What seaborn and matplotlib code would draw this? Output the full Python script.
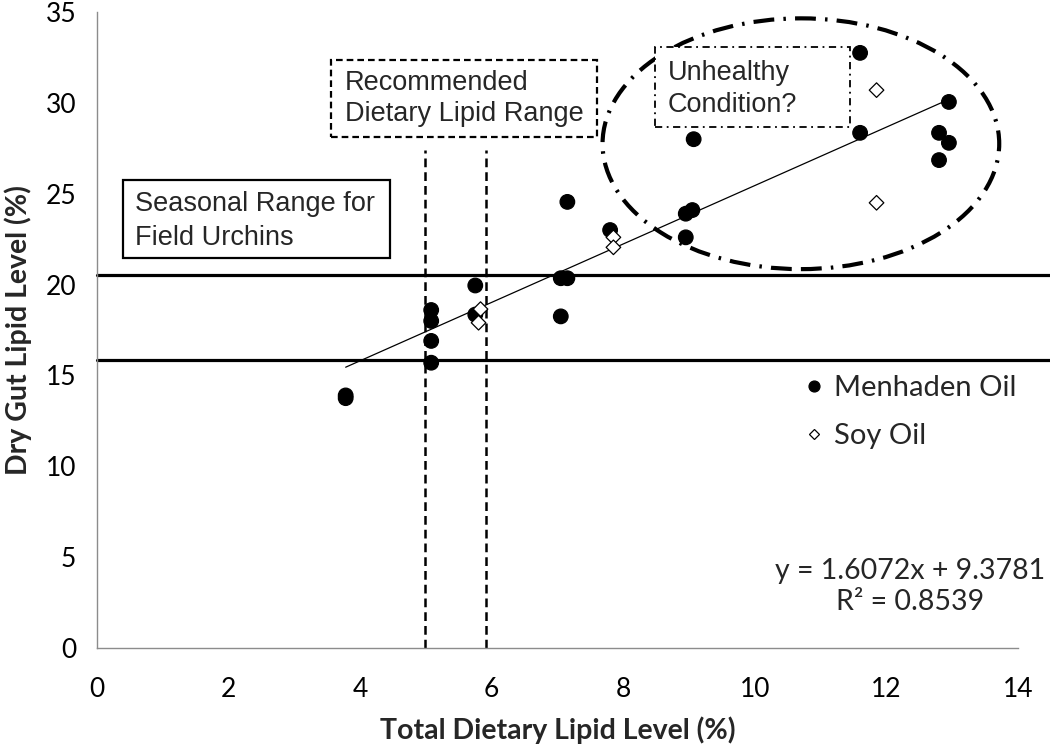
import numpy as np
import pandas as pd
import matplotlib
matplotlib.use("Agg")
import matplotlib.pyplot as plt
from matplotlib.patches import Ellipse, Rectangle
import seaborn as sns

# ---- data ----
menhaden_x = [3.78, 3.78, 5.08, 5.08, 5.08, 5.08, 5.75, 5.75, 7.05, 7.15, 7.05, 7.15,
              7.80, 8.95, 9.05, 8.95, 9.07, 11.60, 11.60, 12.80, 12.95, 12.80, 12.95]
menhaden_y = [13.90, 13.75, 18.60, 18.00, 16.90, 15.70, 19.95, 18.35, 20.35, 20.35, 18.25, 24.55,
              23.00, 23.90, 24.10, 22.60, 28.00, 32.75, 28.35, 28.35, 27.80, 26.85, 30.05]
soy_x = [5.83, 5.80, 7.85, 7.85, 11.85, 11.85]
soy_y = [18.65, 17.90, 22.60, 22.05, 30.70, 24.50]

fit_slope = 1.6072
fit_intercept = 9.3781
fit_r2 = 0.8539

field_range = [15.85, 20.55]        # seasonal range (y)
recommended_range = [4.98, 5.92]    # recommended dietary lipid range (x)

x_ticks = [0, 2, 4, 6, 8, 10, 12, 14]
y_ticks = [0, 5, 10, 15, 20, 25, 30, 35]

df = pd.DataFrame({
    "x": menhaden_x + soy_x,
    "y": menhaden_y + soy_y,
    "oil": ["Menhaden Oil"] * len(menhaden_x) + ["Soy Oil"] * len(soy_x),
})

sns.set_theme(style="white")
plt.rcParams["font.family"] = ["Lato", "DejaVu Sans"]

fig = plt.figure(figsize=(10.5, 7.49), dpi=100)
ax = fig.add_axes([0.0924, 0.1348, 0.8771, 0.8492])

# horizontal seasonal range lines (extend to figure edge)
for yv in field_range:
    ax.plot([0, 14.5], [yv, yv], color="black", lw=2.3, clip_on=False, zorder=2)

# vertical recommended range dashed lines
for xv in recommended_range:
    ax.plot([xv, xv], [0, 27.4], color="black", lw=1.8, ls=(0, (3.5, 2)), zorder=2)

# regression line
xs = np.array([min(df["x"]), max(df["x"])])
ax.plot(xs, fit_slope * xs + fit_intercept, color="black", lw=0.9, zorder=3)

sns.scatterplot(data=df, x="x", y="y", hue="oil", style="oil",
                size="oil", sizes={"Menhaden Oil": 110, "Soy Oil": 55},
                palette={"Menhaden Oil": "black", "Soy Oil": "white"},
                markers={"Menhaden Oil": "o", "Soy Oil": "D"},
                edgecolor="black", linewidth=0.9,
                ax=ax, zorder=4, legend=True)

# ellipse
ell = Ellipse((10.7, 27.75), 6.03, 13.8, fill=False, ec="black", lw=3.0,
              ls=(0, (5, 2.2, 0.6, 2.2)), zorder=2)
ax.add_patch(ell)

box_font = ["Liberation Sans", "DejaVu Sans"]
bfs = 19.5
# Seasonal range box
ax.add_patch(Rectangle((0.395, 21.46), 4.45 - 0.395, 25.76 - 21.46, fill=True, fc="white",
                       ec="black", lw=1.6, zorder=5))
ax.text(0.58, 24.45, "Seasonal Range for", family=box_font, fontsize=bfs, va="center", ha="left", zorder=6)
ax.text(0.58, 22.57, "Field Urchins", family=box_font, fontsize=bfs, va="center", ha="left", zorder=6)

# Recommended box
ax.add_patch(Rectangle((3.556, 28.12), 7.6 - 3.556, 32.36 - 28.12, fill=True, fc="white",
                       ec="black", lw=1.6, ls=(0, (3, 1.8)), zorder=5))
ax.text(3.77, 31.1, "Recommended", family=box_font, fontsize=bfs, va="center", ha="left", zorder=6)
ax.text(3.77, 29.4, "Dietary Lipid Range", family=box_font, fontsize=bfs, va="center", ha="left", zorder=6)

# Unhealthy box
ax.add_patch(Rectangle((8.48, 28.67), 11.44 - 8.48, 33.08 - 28.67, fill=True, fc="white",
                       ec="black", lw=1.3, ls=(0, (4, 2.5, 1, 2.5)), zorder=5))
ax.text(8.68, 31.65, "Unhealthy", family=box_font, fontsize=bfs, va="center", ha="left", zorder=6)
ax.text(8.68, 29.9, "Condition?", family=box_font, fontsize=bfs, va="center", ha="left", zorder=6)

# equation
ax.text(12.36, 4.25, f"y = {fit_slope}x + {fit_intercept}", fontsize=20.5, ha="center", va="center")
ax.text(12.36, 2.55, f"R² = {fit_r2}", fontsize=20.5, ha="center", va="center")

ax.set_xlim(0, 14)
ax.set_ylim(0, 35)
ax.set_xticks(x_ticks)
ax.set_yticks(y_ticks)
ax.tick_params(axis="both", labelsize=19, colors="black", length=9, width=1,
               direction="out", color="#8c8c8c", pad=6)
ax.tick_params(axis="x", pad=12)
for s in ["top", "right"]:
    ax.spines[s].set_visible(False)
for s in ["left", "bottom"]:
    ax.spines[s].set_color("#8c8c8c")
    ax.spines[s].set_linewidth(1)

ax.set_xlabel("Total Dietary Lipid Level (%)", fontsize=20.5, fontweight="bold", labelpad=10)
ax.set_ylabel("Dry Gut Lipid Level (%)", fontsize=20.5, fontweight="bold", labelpad=10)

leg = ax.legend(loc="upper left", bbox_to_anchor=(0.737, 0.47), frameon=False,
                fontsize=21, labelspacing=0.75, handlelength=0.8, handletextpad=0.3,
                markerscale=0.75)

fig.savefig("out.png", dpi=100)
